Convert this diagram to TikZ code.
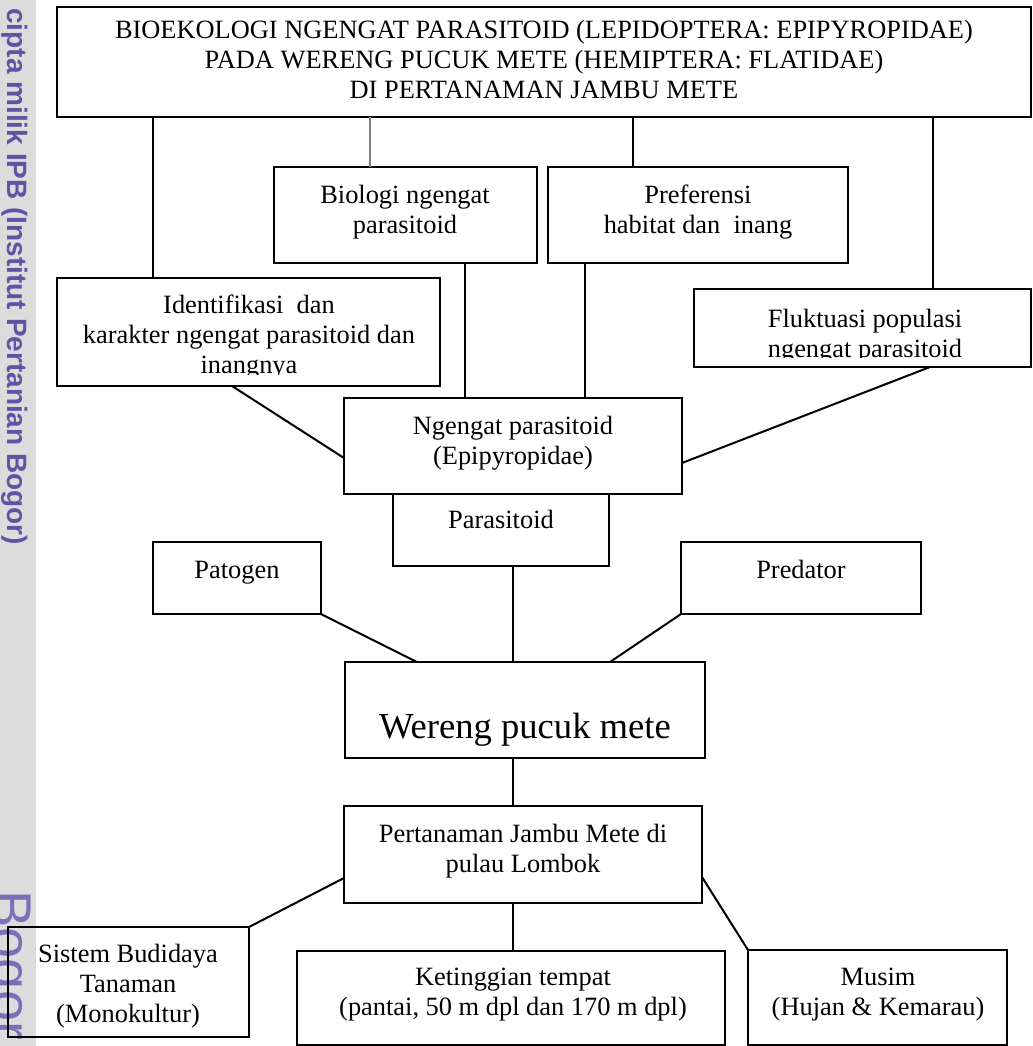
\documentclass[tikz,border=0pt]{standalone}
\usepackage{fontspec}
\setmainfont{Liberation Serif}
\newfontfamily\markfont{Liberation Sans}
\usetikzlibrary{fit}
\definecolor{diagInk}{HTML}{000000}
\definecolor{diagGray}{HTML}{7F7F7F}
\definecolor{markStrip}{HTML}{DCDCDC}
\definecolor{markInk}{HTML}{5E54A4}
\definecolor{markSoft}{HTML}{7A70B8}
\tikzset{
  every picture/.style={text=diagInk},
  diag box/.style={draw=diagInk, line width=1pt, inner sep=0pt, outer sep=0pt},
  diag text/.style={font=\fontsize{13.2}{15}\selectfont, align=flush center,
    text width=240pt, inner sep=0pt, anchor=base},
  diag big/.style={diag text, font=\fontsize{18.3}{21}\selectfont},
  diag link/.style={draw=diagInk, line width=1pt},
  diag thin/.style={draw=diagGray, line width=0.6pt}
}

\begin{document}
\begin{tikzpicture}[x=0.5pt,y=-0.5pt]
  \useasboundingbox (0,0) rectangle (1033,1046);
  % watermark strip
  \fill[markStrip] (0,0) rectangle (36,1046);
  \node[rotate=-90, anchor=base west, inner sep=0pt, text=markInk,
    font=\markfont\bfseries\fontsize{14}{16}\selectfont] (markline) at (8,8)
    {cipta milik IPB (Institut Pertanian Bogor)};
  \node[rotate=-90, anchor=base west, inner sep=0pt, text=markSoft,
    font=\markfont\fontsize{28}{32}\selectfont] (markbig) at (-8,890) {Bogor};

  % boxes
  \node[diag box, fit={(57,7) (1031,117)}] (title) {};
  \node[diag box, fit={(274,167) (537,263)}] (bio) {};
  \node[diag box, fit={(548,167) (848,263)}] (pref) {};
  \node[diag box, fit={(57,278) (440,386)}] (ident) {};
  \node[diag box, fit={(694,289) (1031,367)}] (fluk) {};
  \node[diag box, fit={(344,398) (682,494)}] (moth) {};
  \node[diag box, fit={(393,494) (609,566)}] (paras) {};
  \node[diag box, fit={(153,542) (321,614)}] (patogen) {};
  \node[diag box, fit={(681,542) (921,614)}] (predator) {};
  \node[diag box, fit={(345,662) (705,758)}] (wereng) {};
  \node[diag box, fit={(344,806) (702,903)}] (kebun) {};
  \node[diag box, fit={(8,927) (249,1037)}] (sistem) {};
  \node[diag box, fit={(297,951) (725,1045)}] (tinggi) {};
  \node[diag box, fit={(748,950) (1007,1045)}] (musim) {};

  % texts
  \node[diag text, text width=480pt] (titletext) at (544,38)
    {BIOEKOLOGI NGENGAT PARASITOID (LEPIDOPTERA: EPIPYROPIDAE)\\
     PADA WERENG PUCUK METE (HEMIPTERA: FLATIDAE)\\
     DI PERTANAMAN JAMBU METE};
  \node[diag text] (biotext) at (405,203) {Biologi ngengat\\parasitoid};
  \node[diag text] (preftext) at (698,203) {Preferensi\\habitat dan~ inang};
  \begin{scope}
    \clip (57,278) rectangle (440,374);
    \node[diag text] (identtext) at (249,313)
      {Identifikasi~ dan\\karakter ngengat parasitoid dan\\inangnya};
  \end{scope}
  \begin{scope}
    \clip (694,289) rectangle (1031,357);
    \node[diag text] (fluktext) at (865,327) {Fluktuasi populasi\\ngengat parasitoid};
  \end{scope}
  \node[diag text] (mothtext) at (513,434) {Ngengat parasitoid\\(Epipyropidae)};
  \node[diag text] (parastext) at (501,528) {Parasitoid};
  \node[diag text] (patogentext) at (237,578) {Patogen};
  \node[diag text] (predatortext) at (801,578) {Predator};
  \node[diag big] (werengtext) at (525,738) {Wereng pucuk mete};
  \node[diag text] (kebuntext) at (523,842) {Pertanaman Jambu Mete di\\pulau Lombok};
  \node[diag text] (sistemtext) at (128,962) {Sistem Budidaya\\Tanaman\\(Monokultur)};
  \node[diag text] (tinggitext) at (513,985)
    {Ketinggian tempat\\(pantai, 50 m dpl dan 170 m dpl)};
  \node[diag text] (musimtext) at (878,985) {Musim\\(Hujan \& Kemarau)};

  % connectors
  \draw[diag link] (title.south -| 153,0) -- (ident.north -| 153,0);
  \draw[diag thin] (title.south -| 370,0) -- (bio.north -| 370,0);
  \draw[diag link] (title.south -| 633,0) -- (pref.north -| 633,0);
  \draw[diag link] (title.south -| 933,0) -- (fluk.north -| 933,0);
  \draw[diag link] (bio.south -| 465,0) -- (moth.north -| 465,0);
  \draw[diag link] (pref.south -| 585,0) -- (moth.north -| 585,0);
  \draw[diag link] (ident.south -| 232,0) -- (moth.west |- 0,458);
  \draw[diag link] (fluk.south -| 930,0) -- (moth.east |- 0,463);
  \draw[diag link] (paras.south -| 513,0) -- (wereng.north -| 513,0);
  \draw[diag link] (patogen.south east) -- (wereng.north -| 417,0);
  \draw[diag link] (predator.south west) -- (wereng.north -| 610,0);
  \draw[diag link] (wereng.south -| 513,0) -- (kebun.north -| 513,0);
  \draw[diag link] (kebun.west |- 0,878) -- (sistem.north east);
  \draw[diag link] (kebun.south -| 513,0) -- (tinggi.north -| 513,0);
  \draw[diag link] (kebun.east |- 0,877) -- (musim.north west);
\end{tikzpicture}
\end{document}
